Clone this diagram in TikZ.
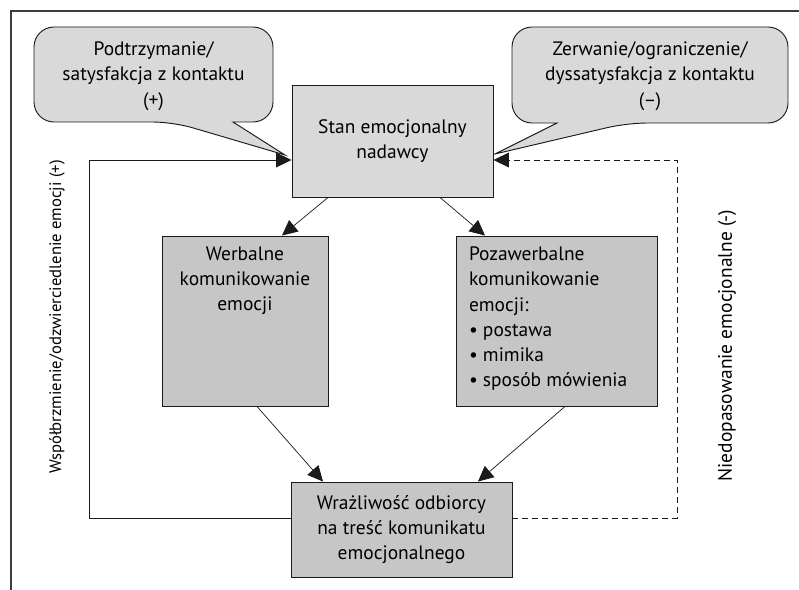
\documentclass[tikz,border=0pt]{standalone}
\usepackage{fontspec}
\setmainfont{PT Sans}
\usepackage{tikz}
\usepackage{xcolor}
\usetikzlibrary{arrows.meta,positioning,calc}
\definecolor{ink}{HTML}{1A1A1A}
\definecolor{boxlight}{HTML}{D9D9D9}
\definecolor{boxdark}{HTML}{C6C6C6}
\newcommand{\diagfont}{\fontsize{16.6}{21.6}\selectfont}
\newcommand{\sidefont}{\fontsize{14.2}{18}\selectfont}
\tikzset{
  lightbox/.style={draw=ink,fill=boxlight,line width=0.8pt,
                   align=center,inner sep=4pt,font=\diagfont},
  darkbox/.style={draw=ink,fill=boxdark,line width=0.8pt,
                  align=center,inner sep=4pt,font=\diagfont},
  boxtop/.style={anchor=north,align=center,font=\diagfont,yshift=-6pt},
  boxtopleft/.style={anchor=north west,align=left,font=\diagfont,
                     xshift=0.28cm,yshift=-6pt},
  bubble/.style={draw=ink,fill=boxlight,line width=0.8pt},
  bubbletext/.style={align=center,font=\diagfont,
                     minimum width=7.17cm,minimum height=2.85cm},
  arr/.style={-{Triangle[length=4.6mm,width=4.4mm]},line width=0.6pt,
              draw=ink},
  dasharr/.style={arr,dash pattern=on 1.8mm off 1.2mm},
  sidelabel/.style={rotate=90,font=\sidefont,inner sep=0pt},
  frameline/.style={draw=ink!85,line width=0.9pt}
}
\begin{document}
\begin{tikzpicture}[x=0.03cm,y=-0.03cm]
    \useasboundingbox (0,0) rectangle (799,590);
    \draw[frameline] (11,590) -- (11,11) -- (799,11);

    \draw[bubble] (285,155) -- (233,122) [rounded corners=0.6cm]
      -- (273,122) -- (273,27) -- (34,27) -- (34,122) -- (173,122)
      [sharp corners] -- cycle;
    \node[bubbletext] (lbub) at (153.5,76)
      {Podtrzymanie/\\satysfakcja z kontaktu\\(+)};
    \draw[bubble] (495,154) -- (557,123) [rounded corners=0.6cm]
      -- (512,123) -- (512,27) -- (788,27) -- (788,123) -- (627,123)
      [sharp corners] -- cycle;
    \node[bubbletext] (rbub) at (650,76)
      {Zerwanie/ograniczenie/\\dyssatysfakcja z kontaktu\\(--)};

    \node[lightbox,minimum width=6.03cm,minimum height=3.36cm] (stan)
      at (392.5,141) {Stan emocjonalny\\nadawcy};
    \node[darkbox,minimum width=4.98cm,minimum height=5.1cm,
      label={[boxtop]north:Werbalne\\komunikowanie\\emocji}] (werb)
      at (245,321) {};
    \node[darkbox,minimum width=6.03cm,minimum height=5.1cm,
      label={[boxtopleft]north west:Pozawerbalne\\komunikowanie\\emocji:\\
        \textbullet\ postawa\\\textbullet\ mimika\\
        \textbullet\ sposób mówienia}] (poza)
      at (556.5,321) {};
    \node[darkbox,minimum width=6.63cm,minimum height=2.85cm] (wraz)
      at (401.5,529.5)
      {Wrażliwość odbiorcy\\na treść komunikatu\\emocjonalnego};

    \draw[arr] ([xshift=-1.935cm]stan.south) -- ([xshift=1.11cm]werb.north);
    \draw[arr] ([xshift=1.425cm]stan.south) -- ([xshift=-2.145cm]poza.north);
    \draw[arr] ([xshift=0.36cm]werb.south) -- ([xshift=-2.355cm]wraz.north);
    \draw[arr] ([xshift=0.255cm]poza.south) -- ([xshift=2.295cm]wraz.north);

    \coordinate (wrazL) at ([yshift=0.345cm]wraz.west);
    \coordinate (wrazR) at ([yshift=0.345cm]wraz.east);
    \coordinate (stanL) at ([yshift=-0.57cm]stan.west);
    \coordinate (stanR) at ([yshift=-0.57cm]stan.east);
    \draw[arr] (wrazL) -- ++(-201,0) |- (stanL);
    \draw[dasharr] (wrazR) -- ++(165,0) |- (stanR);

    \node[sidelabel] (echo) at (57,317)
      {Współbrzmienie/odzwierciedlenie emocji (+)};
    \node[sidelabel,font=\diagfont] (mismatch) at (727,346)
      {Niedopasowanie emocjonalne (-)};
  \end{tikzpicture}
\end{document}
